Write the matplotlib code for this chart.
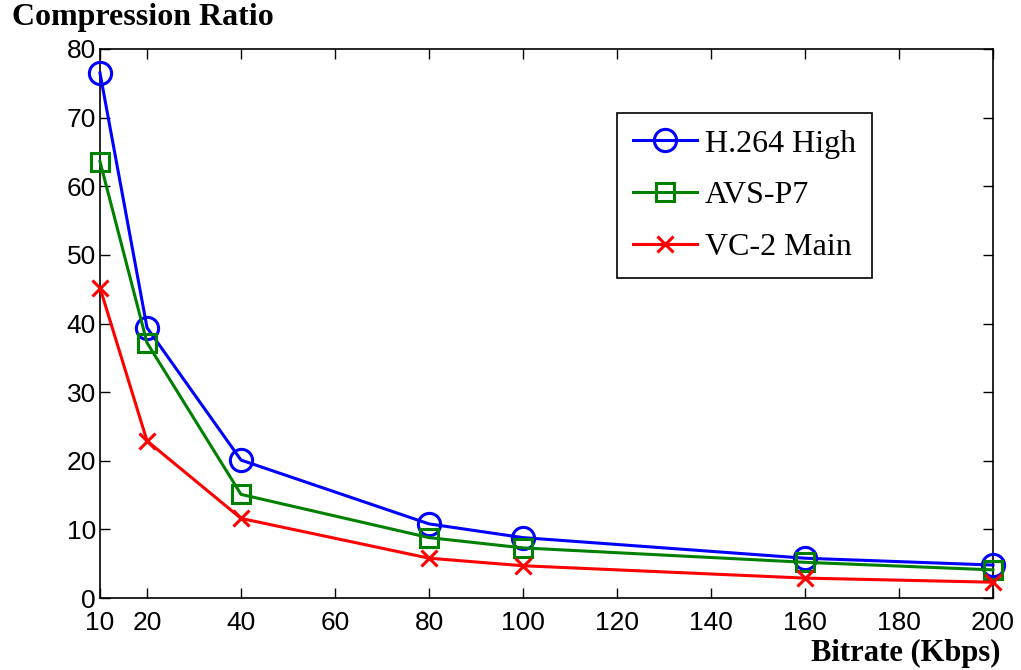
import matplotlib
matplotlib.use("Agg")
import matplotlib.pyplot as plt

# data
bitrate = [10, 20, 40, 80, 100, 160, 200]
h264_high = [76.5, 39.4, 20.1, 10.8, 8.8, 5.8, 4.8]
avs_p7 = [63.6, 37.2, 15.1, 8.8, 7.3, 5.2, 4.1]
vc2_main = [45.2, 22.9, 11.6, 5.8, 4.7, 2.9, 2.3]

xticks = [10, 20, 40, 60, 80, 100, 120, 140, 160, 180, 200]
yticks = [0, 10, 20, 30, 40, 50, 60, 70, 80]

serif = ["Liberation Serif", "DejaVu Serif"]
sans = ["Liberation Sans", "DejaVu Sans"]

fig = plt.figure(figsize=(10.21, 6.7), dpi=100)
ax = fig.add_axes([100 / 1021, 1 - 598 / 670, 893 / 1021, 549 / 670])

ax.plot(bitrate, h264_high, color="blue", lw=2.2, marker="o", ms=16,
        mfc="none", mew=2.2, label="H.264 High", clip_on=False, zorder=3)
ax.plot(bitrate, avs_p7, color="green", lw=2.2, marker="s", ms=13,
        mfc="none", mew=2.2, label="AVS-P7", clip_on=False, zorder=3)
ax.plot(bitrate, vc2_main, color="red", lw=2.2, marker="x", ms=11,
        mew=2.2, label="VC-2 Main", clip_on=False, zorder=3)

ax.set_xlim(10, 200)
ax.set_ylim(0, 80)
ax.set_xticks(xticks)
ax.set_yticks(yticks)
ax.tick_params(direction="in", length=7, width=1, top=True, right=True,
               labelsize=19)
ax.tick_params(axis="x", pad=9)
ax.tick_params(axis="y", pad=3)
for lab in ax.get_xticklabels() + ax.get_yticklabels():
    lab.set_family(sans)
for s in ax.spines.values():
    s.set_linewidth(1.2)

leg = ax.legend(loc="upper left", bbox_to_anchor=(0.579, 0.883),
                borderaxespad=0,
                prop={"family": serif, "size": 23}, handlelength=2.0,
                fancybox=False, edgecolor="black", framealpha=1,
                borderpad=0.5, labelspacing=0.7, handletextpad=0.25)
leg.get_frame().set_linewidth(1.2)

fig.text(12 / 1021, 1 - 18 / 670, "Compression Ratio", family=serif,
         weight="bold", fontsize=23, va="center", ha="left")
fig.text(1000 / 1021, 1 - 653 / 670, "Bitrate (Kbps)", family=serif,
         weight="bold", fontsize=22, va="center", ha="right")

fig.savefig("out.png", dpi=100)
